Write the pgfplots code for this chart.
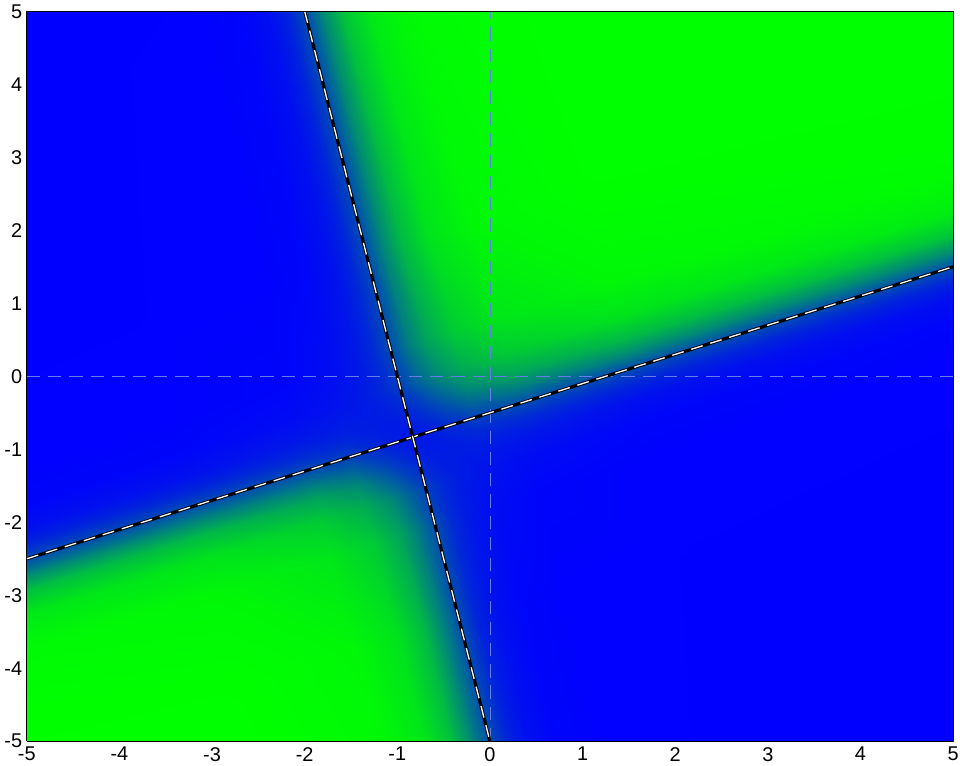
\documentclass[border=0pt]{standalone}
\usepackage{fontspec}
\setmainfont{Liberation Sans}
\usepackage{pgfplots}
\pgfplotsset{compat=1.18}
\definecolor{axdash}{RGB}{100,125,235}

\begin{document}
\begin{tikzpicture}
\begin{axis}[
  view={0}{90},
  scale only axis,
  width=698pt, height=550pt,
  xmin=-5, xmax=5, ymin=-5, ymax=5, zmin=-1, zmax=1,
  xtick={-5,-4,...,5}, ytick={-5,-4,...,5}, ztick=\empty,
  hide z axis,
  axis on top,
  major tick length=0pt,
  xticklabel style={font=\fontsize{15}{17}\selectfont, yshift=-1pt},
  yticklabel style={font=\fontsize{15}{17}\selectfont},
  /pgf/number format/assume math mode=true,
  axis line style={line width=0.75pt},
  colormap={bg}{rgb255=(0,0,255) rgb255=(0,255,0)},
  point meta min=0, point meta max=1,
]
% lattice aligned with the two lines; c = output
\addplot3[surf, shader=interp, mesh/cols=13, point meta=explicit]
  table[x=x, y=y, z expr=0, meta=c] {
x y c
-6.792 -11.833 1.000
-7.889 -6.349 1.000
-8.148 -5.052 0.994
-8.248 -4.553 0.945
-8.308 -4.254 0.793
-8.347 -4.055 0.569
-8.387 -3.855 0.301
-8.427 -3.656 0.124
-8.467 -3.456 0.046
-8.527 -3.157 0.011
-8.627 -2.659 0.001
-8.886 -1.362 0.000
-9.983 4.123 0.000
-1.599 -9.755 1.000
-2.696 -4.271 0.998
-2.955 -2.974 0.972
-3.055 -2.475 0.889
-3.115 -2.176 0.727
-3.154 -1.977 0.532
-3.194 -1.777 0.301
-3.234 -1.578 0.141
-3.274 -1.378 0.066
-3.334 -1.079 0.023
-3.434 -0.581 0.005
-3.693 0.716 0.002
-4.790 6.201 0.000
-0.371 -9.264 0.994
-1.468 -3.780 0.972
-1.727 -2.483 0.904
-1.827 -1.984 0.794
-1.887 -1.685 0.644
-1.926 -1.486 0.488
-1.966 -1.286 0.299
-2.006 -1.087 0.161
-2.046 -0.887 0.092
-2.106 -0.588 0.046
-2.206 -0.090 0.019
-2.465 1.207 0.005
-3.562 6.692 0.001
0.101 -9.075 0.945
-0.996 -3.591 0.889
-1.255 -2.294 0.794
-1.355 -1.795 0.677
-1.415 -1.496 0.530
-1.454 -1.297 0.393
-1.494 -1.097 0.247
-1.534 -0.898 0.151
-1.574 -0.698 0.107
-1.634 -0.399 0.074
-1.734 0.099 0.046
-1.993 1.396 0.023
-3.090 6.881 0.011
0.384 -8.962 0.793
-0.713 -3.478 0.727
-0.972 -2.181 0.644
-1.072 -1.682 0.530
-1.132 -1.383 0.372
-1.171 -1.184 0.254
-1.211 -0.984 0.159
-1.251 -0.785 0.115
-1.291 -0.585 0.107
-1.351 -0.286 0.107
-1.451 0.212 0.092
-1.710 1.509 0.066
-2.807 6.994 0.046
0.573 -8.887 0.569
-0.524 -3.403 0.532
-0.783 -2.106 0.488
-0.883 -1.607 0.393
-0.943 -1.308 0.254
-0.982 -1.109 0.166
-1.022 -0.909 0.113
-1.062 -0.710 0.099
-1.102 -0.510 0.115
-1.162 -0.211 0.151
-1.262 0.287 0.161
-1.521 1.584 0.141
-2.618 7.069 0.124
0.762 -8.811 0.301
-0.335 -3.327 0.301
-0.594 -2.030 0.299
-0.694 -1.531 0.247
-0.754 -1.232 0.159
-0.793 -1.033 0.113
-0.833 -0.833 0.096
-0.873 -0.634 0.113
-0.913 -0.434 0.159
-0.973 -0.135 0.247
-1.073 0.363 0.299
-1.332 1.660 0.301
-2.429 7.145 0.301
0.951 -8.735 0.124
-0.146 -3.251 0.141
-0.405 -1.954 0.161
-0.505 -1.455 0.151
-0.565 -1.156 0.115
-0.604 -0.957 0.099
-0.644 -0.757 0.113
-0.684 -0.558 0.166
-0.724 -0.358 0.254
-0.784 -0.059 0.393
-0.884 0.439 0.488
-1.143 1.736 0.532
-2.240 7.221 0.569
1.140 -8.660 0.046
0.043 -3.176 0.066
-0.216 -1.879 0.092
-0.316 -1.380 0.107
-0.376 -1.081 0.107
-0.415 -0.882 0.115
-0.455 -0.682 0.159
-0.495 -0.483 0.254
-0.535 -0.283 0.372
-0.595 0.016 0.530
-0.695 0.514 0.644
-0.954 1.811 0.727
-2.051 7.296 0.793
1.423 -8.547 0.011
0.326 -3.063 0.023
0.067 -1.766 0.046
-0.033 -1.267 0.074
-0.093 -0.968 0.107
-0.132 -0.769 0.151
-0.172 -0.569 0.247
-0.212 -0.370 0.393
-0.252 -0.170 0.530
-0.312 0.129 0.677
-0.412 0.627 0.794
-0.671 1.924 0.889
-1.768 7.409 0.945
1.895 -8.358 0.001
0.798 -2.874 0.005
0.539 -1.577 0.019
0.439 -1.078 0.046
0.379 -0.779 0.092
0.340 -0.580 0.161
0.300 -0.380 0.299
0.260 -0.181 0.488
0.220 0.019 0.644
0.160 0.318 0.794
0.060 0.816 0.904
-0.199 2.113 0.972
-1.296 7.598 0.994
3.123 -7.867 0.000
2.026 -2.383 0.002
1.767 -1.086 0.005
1.667 -0.587 0.023
1.607 -0.288 0.066
1.568 -0.089 0.141
1.528 0.111 0.301
1.488 0.310 0.532
1.448 0.510 0.727
1.388 0.809 0.889
1.288 1.307 0.972
1.029 2.604 0.998
-0.068 8.089 1.000
8.316 -5.789 0.000
7.219 -0.305 0.000
6.960 0.992 0.001
6.860 1.491 0.011
6.800 1.790 0.046
6.761 1.989 0.124
6.721 2.189 0.301
6.681 2.388 0.569
6.641 2.588 0.793
6.581 2.887 0.945
6.481 3.385 0.994
6.222 4.682 1.000
5.125 10.167 1.000
};
% dashed zero lines
\addplot3[axdash, line width=0.6pt, dash pattern=on 10pt off 6pt] coordinates {(0,-5,0) (0,5,0)};
\addplot3[axdash, line width=0.6pt, dash pattern=on 10pt off 6pt] coordinates {(-5,0,0) (5,0,0)};
% the two boundary lines
\addplot3[black, line width=2.4pt] coordinates {(-5,-2.5,0) (5,1.5,0)};
\addplot3[white, line width=1pt, dash pattern=on 9pt off 6pt] coordinates {(-5,-2.5,0) (5,1.5,0)};
\addplot3[black, line width=2.4pt] coordinates {(-2,5,0) (0,-5,0)};
\addplot3[white, line width=1pt, dash pattern=on 9pt off 6pt] coordinates {(-2,5,0) (0,-5,0)};
\end{axis}
\end{tikzpicture}
\end{document}
